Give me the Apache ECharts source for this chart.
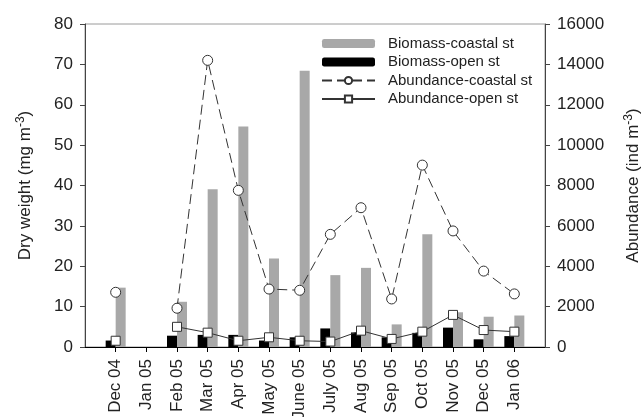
<!DOCTYPE html>
<html>
<head>
<meta charset="utf-8">
<script src="https://cdn.jsdelivr.net/npm/echarts@6/dist/echarts.min.js"></script>
<style>
html,body{margin:0;padding:0;background:#fff;}
#c{width:642px;height:417px;}
</style>
</head>
<body>
<div id="c"></div>
<script>
const months = ['Dec 04','Jan 05','Feb 05','Mar 05','Apr 05','May 05','June 05','July 05','Aug 05','Sep 05','Oct 05','Nov 05','Dec 05','Jan 06'];
const biomassCoastal = [14.7, null, 11.2, 39.1, 54.6, 21.9, 68.4, 17.8, 19.6, 5.6, 27.9, 8.6, 7.5, 7.8];
const biomassOpen = [1.6, null, 2.8, 3.0, 3.0, 1.6, 2.4, 4.6, 3.6, 2.4, 3.5, 4.8, 1.9, 2.7];
const abundanceCoastal = [2710, null, 1920, 14200, 7760, 2870, 2810, 5580, 6900, 2380, 9010, 5750, 3760, 2630];
const abundanceOpen = [310, null, 1000, 710, 310, 480, 310, 270, 810, 400, 760, 1590, 840, 760];
const leftTicks = {min: 0, max: 80, interval: 10};
const rightTicks = {min: 0, max: 16000, interval: 2000};

const pad = arr => [null].concat(arr, [null]);
const cats = [''].concat(months, ['']);
const font = 'Liberation Sans, Arial, sans-serif';

const chart = echarts.init(document.getElementById('c'), null, {renderer: 'canvas'});
chart.setOption({
  animation: false,
  backgroundColor: '#fff',
  textStyle: {fontFamily: font},
  grid: {left: 85, right: 97, top: 24, bottom: 70, show: true, borderColor: '#9a9a9a', borderWidth: 1,
    containLabel: false, outerBoundsMode: 'none'},
  legend: {
    orient: 'vertical', left: 321, top: 36, padding: 0,
    itemWidth: 53, itemHeight: 9, itemGap: 3.5,
    data: ['Biomass-coastal st', 'Biomass-open st', 'Abundance-coastal st', 'Abundance-open st'],
    textStyle: {fontSize: 15, color: '#222', fontFamily: font, lineHeight: 15, padding: [0, 0, 0, 8]}
  },
  xAxis: {
    type: 'category', data: cats, boundaryGap: false,
    axisLine: {lineStyle: {color: '#000', width: 1}},
    axisTick: {show: true, length: 5, inside: false, lineStyle: {color: '#000'},
      interval: (i, v) => v !== ''},
    axisLabel: {interval: 0, rotate: 90, fontSize: 17, color: '#222', margin: 12, fontFamily: font},
    splitLine: {show: false}
  },
  yAxis: [{
    type: 'value', min: leftTicks.min, max: leftTicks.max, interval: leftTicks.interval,
    name: 'Dry weight (mg m{sup|-3})', nameLocation: 'middle', nameGap: 50,
    nameTextStyle: {fontSize: 17, color: '#222', fontFamily: font, lineHeight: 20,
      rich: {sup: {fontSize: 12, lineHeight: 12, verticalAlign: 'top', color: '#222', fontFamily: font}}},
    axisLine: {show: true, lineStyle: {color: '#444'}},
    axisTick: {show: true, length: 5, lineStyle: {color: '#444'}},
    axisLabel: {fontSize: 17, color: '#222', margin: 12, fontFamily: font},
    splitLine: {show: false}
  }, {
    type: 'value', min: rightTicks.min, max: rightTicks.max, interval: rightTicks.interval,
    position: 'right',
    name: 'Abundance (ind m{sup|-3})', nameLocation: 'middle', nameGap: 78,
    nameTextStyle: {fontSize: 17, color: '#222', fontFamily: font, lineHeight: 20,
      rich: {sup: {fontSize: 12, lineHeight: 12, verticalAlign: 'top', color: '#222', fontFamily: font}}},
    axisLine: {show: true, lineStyle: {color: '#444'}},
    axisTick: {show: true, length: 5, lineStyle: {color: '#444'}},
    axisLabel: {fontSize: 17, color: '#222', margin: 12, fontFamily: font, formatter: v => String(v)},
    splitLine: {show: false}
  }],
  series: [{
    name: 'Biomass-open st', type: 'bar', data: pad(biomassOpen), barWidth: 10, barGap: '0%',
    itemStyle: {color: '#000'}
  }, {
    name: 'Biomass-coastal st', type: 'bar', data: pad(biomassCoastal), barWidth: 10, barGap: '0%',
    itemStyle: {color: '#a8a8a8'}
  }, {
    name: 'Abundance-coastal st', type: 'line', yAxisIndex: 1, data: pad(abundanceCoastal),
    symbol: 'circle', symbolSize: 10, showAllSymbol: true, connectNulls: false,
    lineStyle: {color: '#333', width: 1, type: [10, 5]},
    itemStyle: {color: '#fff', borderColor: '#333', borderWidth: 1}
  }, {
    name: 'Abundance-open st', type: 'line', yAxisIndex: 1, data: pad(abundanceOpen),
    symbol: 'rect', symbolSize: 9, showAllSymbol: true, connectNulls: false,
    lineStyle: {color: '#333', width: 1},
    itemStyle: {color: '#fff', borderColor: '#333', borderWidth: 1}
  }]
});
</script>
</body>
</html>
